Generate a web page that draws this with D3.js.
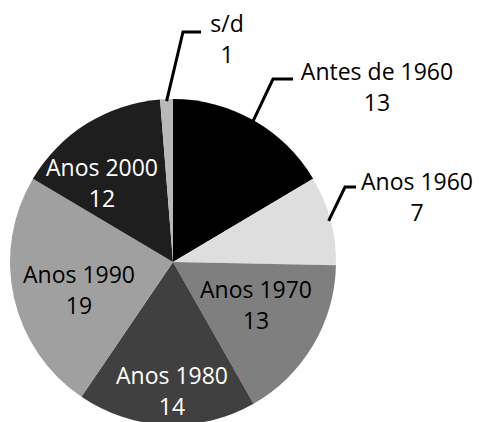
<!DOCTYPE html>
<html>
<head>
<meta charset="utf-8">
<script src="https://cdn.jsdelivr.net/npm/d3@7"></script>
<style>
  body { margin: 0; background: #fff; }
  text { font-family: "Open Sans", sans-serif; font-size: 23px; }
</style>
</head>
<body>
<svg id="chart"></svg>
<script>
const width = 479;
const height = 422;

// Data
const categories = ["Antes de 1960", "Anos 1960", "Anos 1970", "Anos 1980", "Anos 1990", "Anos 2000", "s/d"];
const values = [13, 7, 13, 14, 19, 12, 1];

const colors = ["#000000", "#dedede", "#7f7f7f", "#404040", "#a0a0a0", "#1e1e1e", "#b9b9b9"];
const textColors = ["#000", "#000", "#000", "#fff", "#000", "#fff", "#000"];

// label centres (first line baseline) for each slice
const labelPos = {
    "Antes de 1960": [377, 80],
    "Anos 1960": [417, 190],
    "Anos 1970": [256, 298],
    "Anos 1980": [172, 384],
    "Anos 1990": [79, 283],
    "Anos 2000": [102, 176],
    "s/d": [227, 32]
};

// leader lines: elbow point and end of horizontal stroke
const leaders = {
    "s/d": [[183, 32], [201, 32]],
    "Antes de 1960": [[273, 79], [293, 79]],
    "Anos 1960": [[345, 187], [356, 187]]
};

const cx = 173, cy = 262, radius = 163;

const svg = d3.select("#chart").attr("width", width).attr("height", height);

const pie = d3.pie().sort(null).value(d => d.value);
const arc = d3.arc().innerRadius(0).outerRadius(radius);

const data = categories.map((c, i) => ({ name: c, value: values[i], i: i }));
const arcs = pie(data);

const g = svg.append("g").attr("transform", `translate(${cx},${cy})`);

g.selectAll("path")
    .data(arcs)
    .join("path")
    .attr("d", arc)
    .attr("fill", d => colors[d.data.i]);

// leader lines
arcs.filter(d => leaders[d.data.name]).forEach(d => {
    const a = (d.startAngle + d.endAngle) / 2;
    const start = [cx + Math.sin(a) * (radius - 2), cy - Math.cos(a) * (radius - 2)];
    const pts = [start].concat(leaders[d.data.name]);
    svg.append("polyline")
        .attr("points", pts.map(p => p.join(",")).join(" "))
        .attr("fill", "none")
        .attr("stroke", "#000")
        .attr("stroke-width", 3);
});

// labels
const labels = svg.selectAll(".label")
    .data(arcs)
    .join("text")
    .attr("class", "label")
    .attr("text-anchor", "middle")
    .attr("fill", d => textColors[d.data.i])
    .attr("x", d => labelPos[d.data.name][0])
    .attr("y", d => labelPos[d.data.name][1]);

labels.append("tspan")
    .attr("x", d => labelPos[d.data.name][0])
    .text(d => d.data.name);

labels.append("tspan")
    .attr("x", d => labelPos[d.data.name][0])
    .attr("dy", 31)
    .text(d => d.data.value);
</script>
</body>
</html>
